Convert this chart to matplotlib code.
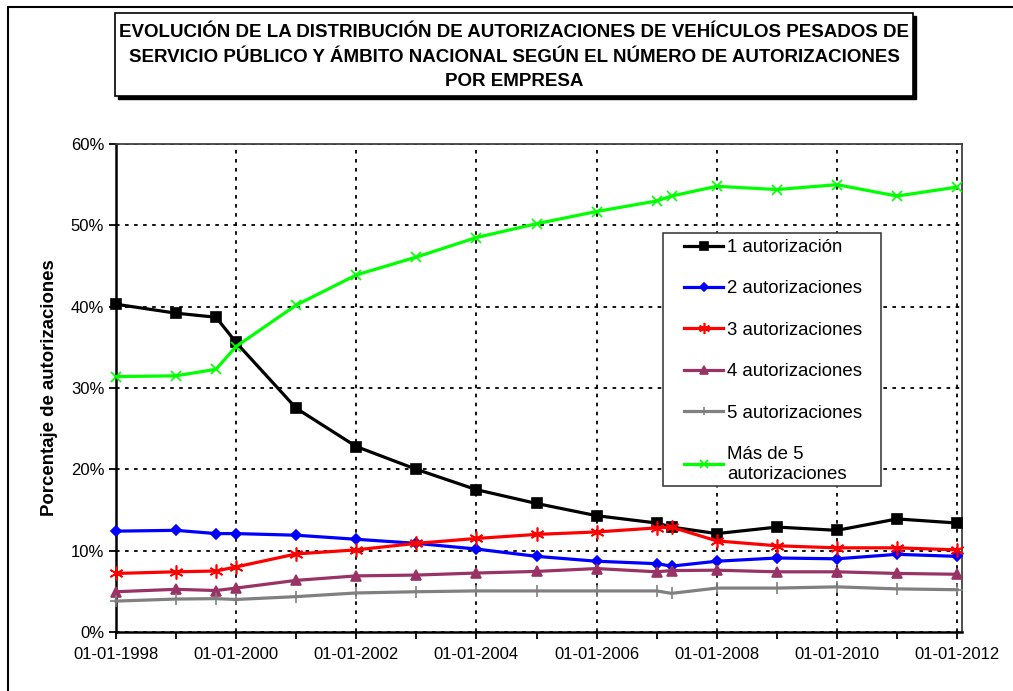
import matplotlib
matplotlib.use('Agg')
import matplotlib.pyplot as plt
import matplotlib.dates as mdates
from matplotlib.patches import Rectangle
from matplotlib.ticker import PercentFormatter
from datetime import datetime

# fechas de los datos (una por observación)
fechas = ['1998-01-01', '1999-01-01', '1999-09-01', '2000-01-01', '2001-01-01',
          '2002-01-01', '2003-01-01', '2004-01-01', '2005-01-01', '2006-01-01',
          '2007-01-01', '2007-04-01', '2008-01-01', '2009-01-01', '2010-01-01',
          '2011-01-01', '2012-01-01']

# porcentajes por número de autorizaciones
una = [40.3, 39.2, 38.7, 35.6, 27.5, 22.8, 20.0, 17.5, 15.8, 14.3, 13.4, 12.9,
       12.1, 12.9, 12.5, 13.9, 13.4]
dos = [12.4, 12.5, 12.1, 12.1, 11.9, 11.4, 10.9, 10.2, 9.3, 8.7, 8.4, 8.1,
       8.7, 9.1, 9.0, 9.55, 9.3]
tres = [7.2, 7.4, 7.5, 8.0, 9.6, 10.1, 10.9, 11.5, 12.0, 12.3, 12.8, 12.9,
        11.2, 10.6, 10.35, 10.35, 10.1]
cuatro = [4.95, 5.25, 5.1, 5.4, 6.35, 6.9, 7.0, 7.25, 7.45, 7.8, 7.4, 7.55,
          7.6, 7.4, 7.4, 7.2, 7.1]
cinco = [3.8, 4.05, 4.1, 4.0, 4.35, 4.8, 4.95, 5.05, 5.05, 5.05, 5.05, 4.75,
         5.4, 5.4, 5.55, 5.3, 5.2]
mas_de_5 = [31.4, 31.5, 32.3, 35.1, 40.2, 43.9, 46.1, 48.5, 50.2, 51.7, 53.0,
            53.6, 54.8, 54.4, 55.0, 53.6, 54.7]

etiquetas = ['1 autorización', '2 autorizaciones', '3 autorizaciones',
             '4 autorizaciones', '5 autorizaciones', 'Más de 5\nautorizaciones']

titulo = ('EVOLUCIÓN DE LA DISTRIBUCIÓN DE AUTORIZACIONES DE VEHÍCULOS PESADOS DE\n'
          'SERVICIO PÚBLICO Y ÁMBITO NACIONAL SEGÚN EL NÚMERO DE AUTORIZACIONES\n'
          'POR EMPRESA')

dates = [datetime.strptime(f, '%Y-%m-%d') for f in fechas]

plt.rcParams['font.family'] = ['Liberation Sans', 'DejaVu Sans']

W, H = 1013, 691
fig = plt.figure(figsize=(W / 100, H / 100), dpi=100)
ax = fig.add_axes([116 / W, 1 - 632 / H, (962 - 116) / W, (632 - 144) / H])

# series: (valores, color, marcador, tamaño)
series = [
    (una, 'black', 's', 6.5),
    (dos, '#0000ff', 'D', 5.5),
    (tres, '#ff0000', (6, 2, 0), 10),
    (cuatro, '#993366', '^', 7.5),
    (cinco, '#808080', '+', 8),
    (mas_de_5, '#00ff00', 'x', 7),
]
for (vals, color, marker, ms), label in zip(series, etiquetas):
    ax.plot(dates, vals, color=color, marker=marker, markersize=ms, lw=2.3,
            markeredgewidth=1.2, label=label, clip_on=False, zorder=3)

# ejes
ax.set_ylim(0, 60)
ax.set_yticks(range(0, 61, 10))
ax.yaxis.set_major_formatter(PercentFormatter(decimals=0))
ax.set_xlim(datetime(1998, 1, 1), datetime(2012, 1, 31))
ax.xaxis.set_major_locator(mdates.YearLocator(2))
ax.xaxis.set_minor_locator(mdates.YearLocator(1))
ax.xaxis.set_major_formatter(mdates.DateFormatter('%d-%m-%Y'))
ax.tick_params(axis='both', which='both', direction='out', length=5, width=1.3,
               labelsize=12, color='black')
ax.tick_params(axis='x', pad=6)
ax.grid(True, which='major', color='black', linestyle=(0, (2, 3)), lw=1.3)

for side in ['left', 'bottom']:
    ax.spines[side].set_linewidth(1.8)
for side in ['top', 'right']:
    ax.spines[side].set_color('#404040')
    ax.spines[side].set_linewidth(1.3)

ax.set_ylabel('Porcentaje de autorizaciones', fontsize=13.4, fontweight='bold',
              labelpad=9)

# caja de la leyenda dibujada a mano
ax.add_patch(Rectangle((663 / W, 1 - 486 / H), (881 - 663) / W, (486 - 233) / H,
                       transform=fig.transFigure, facecolor='white',
                       edgecolor='#404040', lw=1.2, clip_on=False, zorder=4))
leg = ax.legend(loc='upper left', bbox_to_anchor=(684 / W, 1 - 239 / H),
                bbox_transform=fig.transFigure, borderaxespad=0, fontsize=13.4,
                frameon=False, handlelength=2.1, handletextpad=0.22,
                labelspacing=1.31, borderpad=0, markerscale=0.8)
leg.set_zorder(5)

# marco exterior del gráfico
fig.patches.append(Rectangle((8 / W, -0.1), 1.2, 1 - 7 / H + 0.1,
                             transform=fig.transFigure, fill=False,
                             edgecolor='black', lw=1.5))

# cuadro del título con sombra
bx0, by0, bx1, by1 = 115, 13, 913, 96
fig.patches.append(Rectangle(((bx0 + 3) / W, 1 - (by1 + 3) / H),
                             (bx1 - bx0) / W, (by1 - by0) / H,
                             transform=fig.transFigure, facecolor='black',
                             edgecolor='black', lw=1))
fig.patches.append(Rectangle((bx0 / W, 1 - by1 / H), (bx1 - bx0) / W,
                             (by1 - by0) / H, transform=fig.transFigure,
                             facecolor='white', edgecolor='black', lw=1.2))
fig.text((bx0 + bx1) / 2 / W, 1 - ((by0 + by1) / 2 + 2.5) / H, titulo,
         ha='center', va='center', fontsize=13.5, fontweight='bold',
         linespacing=1.58)

fig.savefig('out.png', dpi=100)
